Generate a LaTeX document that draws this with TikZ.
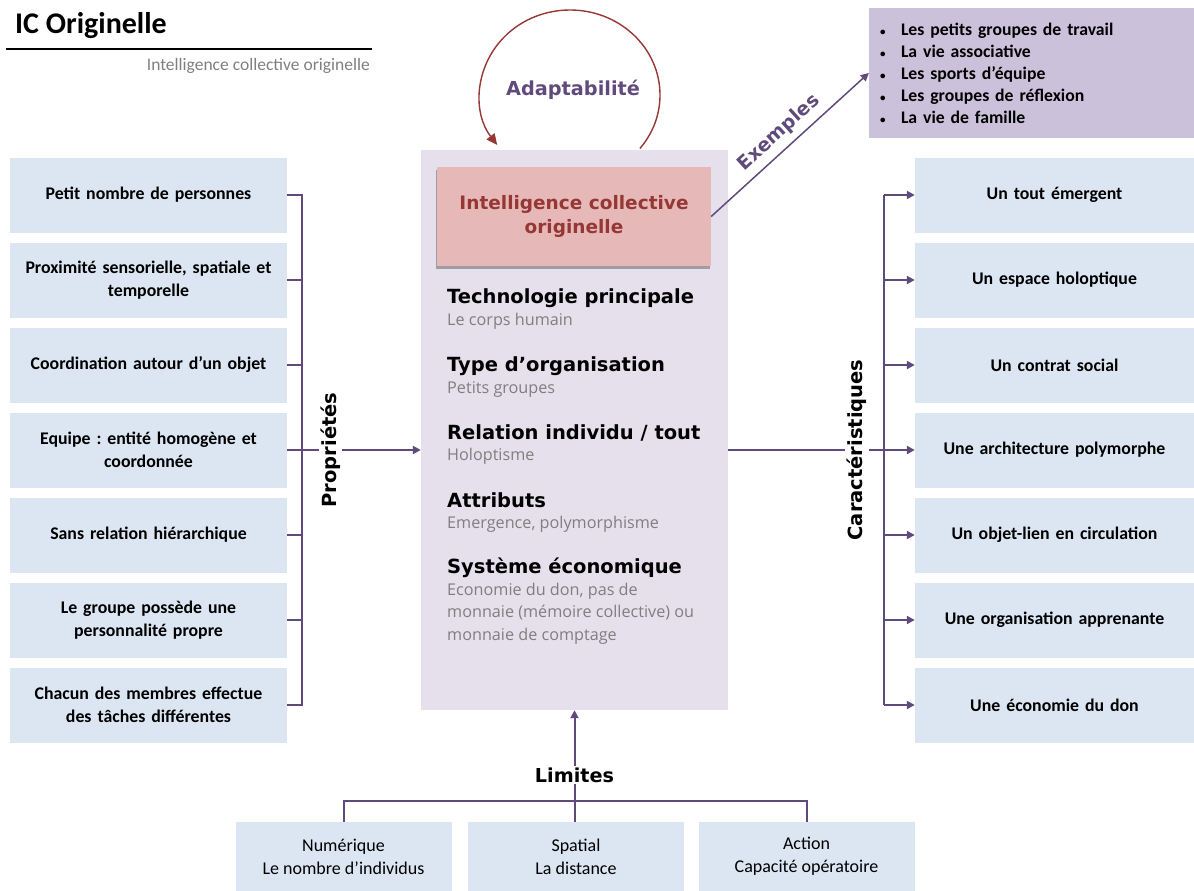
\documentclass[tikz,border=0pt]{standalone}
\usepackage{fontspec}
\setmainfont{Carlito}
\newfontfamily\heavyfont{DejaVu Sans}
\newfontfamily\greyfont{Open Sans}
\usetikzlibrary{arrows.meta,shadows}
\definecolor{boxblue}{HTML}{DCE6F2}
\definecolor{lavender}{HTML}{E6E0EC}
\definecolor{lilac}{HTML}{CCC1DA}
\definecolor{rose}{HTML}{E6B9B8}
\definecolor{darkred}{HTML}{953735}
\definecolor{plum}{HTML}{604A7B}
\definecolor{greytext}{HTML}{7F7F7F}
\newcommand{\exdot}{\makebox[21pt][l]{\fontsize{11}{11}\selectfont\textbullet}}

\begin{document}
\frenchspacing
\begin{tikzpicture}[x=1pt, y=-1pt,
    item/.style={fill=boxblue, minimum width=277pt, minimum height=75pt, text width=268pt,
        align=center, inner sep=0pt, font=\fontsize{17.8}{23}\selectfont\bfseries},
    limbox/.style={fill=boxblue, minimum width=216pt, minimum height=69pt, align=center,
        inner sep=0pt, font=\fontsize{18}{23}\selectfont},
    conn/.style={plum, line width=2pt},
    tip/.style={-{Triangle[length=8pt,width=8pt]}},
    sidelabel/.style={text=black, font=\heavyfont\bfseries\fontsize{19.5}{22}\selectfont, fill=white,
        inner sep=2pt, rotate=90},
    head/.style={anchor=west, inner sep=0pt, font=\heavyfont\bfseries\fontsize{19.5}{22}\selectfont},
    sub/.style={anchor=west, inner sep=0pt, text=greytext, align=left, font=\greyfont\fontsize{16.2}{22.5}\selectfont}]
    \useasboundingbox (0,0) rectangle (1194,891);

    % title
    \node[anchor=base west, inner sep=0pt, font=\fontsize{30}{34}\selectfont\bfseries] (ttl) at (15,34) {IC Originelle};
    \draw[line width=2pt] (6,49) -- (372,49);
    \node[anchor=east, inner sep=0pt, text=greytext, font=\fontsize{17.5}{20}\selectfont] (subttl) at (370,66)
        {Intelligence collective originelle};

    % central block
    \node[fill=lavender, minimum width=307pt, minimum height=560pt, inner sep=0pt] (core) at (574.5,430) {};
    \node[fill=rose, drop shadow={shadow xshift=-1pt, shadow yshift=-2.5pt, fill=black, opacity=0.3},
        minimum width=274pt, minimum height=99pt, align=center, text=darkred,
        font=\heavyfont\bfseries\fontsize{18.5}{24}\selectfont] (ico) at (574,216.5) {Intelligence collective\\originelle};
    \node[head] (h1) at (447,298) {Technologie principale};
    \node[sub]  (s1) at (447,321) {Le corps humain};
    \node[head] (h2) at (447,366) {Type d’organisation};
    \node[sub]  (s2) at (447,389) {Petits groupes};
    \node[head] (h3) at (447,433) {Relation individu / tout};
    \node[sub]  (s3) at (447,456) {Holoptisme};
    \node[head] (h4) at (447,500) {Attributs};
    \node[sub]  (s4) at (447,524) {Emergence, polymorphisme};
    \node[head] (h5) at (447,568) {Système économique};
    \node[sub]  (s5) at (447,613.5) {Economie du don, pas de\\monnaie (mémoire collective) ou\\monnaie de comptage};

    % adaptability loop
    \coordinate (loop) at (570,95);
    \draw[darkred, line width=1.4pt, -{Triangle[length=11pt,width=10pt]}] (loop) ++(39:90 and 85)
        arc[start angle=39, end angle=-216, x radius=90, y radius=85];
    \node[text=plum, font=\heavyfont\bfseries\fontsize{19.3}{22}\selectfont] (adapt) at (573,90) {Adaptabilité};

    % examples
    \node[fill=lilac, minimum width=327pt, minimum height=130pt, text width=305pt, inner sep=0pt,
        align=left, font=\fontsize{17.7}{22}\selectfont\bfseries] (ex) at (1032.5,73)
        {\exdot Les petits groupes de travail\\
         \exdot La vie associative\\
         \exdot Les sports d’équipe\\
         \exdot Les groupes de réflexion\\
         \exdot La vie de famille};
    \draw[plum, line width=1.5pt, tip] (ico.east) -- node[sloped, above=3pt, text=plum,
        font=\heavyfont\bfseries\fontsize{19}{22}\selectfont] (exl) {Exemples} (ex.west);

    % properties
    \foreach \t [count=\i] in {{Petit nombre de personnes}, {Proximité sensorielle, spatiale et\\temporelle},
        {Coordination autour d’un objet}, {Equipe : entité homogène et\\coordonnée}, {Sans relation hiérarchique},
        {Le groupe possède une\\personnalité propre}, {Chacun des membres effectue\\des tâches différentes}}
        \node[item] (lb\i) at (148.5,110+85*\i) {\t};
    \draw[conn] (lb1.east) -- ++(15,0) coordinate (ltop) -- (ltop |- lb7.east) -- (lb7.east);
    \foreach \i in {2,...,6}
        \draw[conn] (lb\i.east) -- (ltop |- lb\i.east);
    \draw[conn, tip] (ltop |- lb4.east) -- node[sidelabel, pos=0.24] (prop) {Propriétés} (core.west |- lb4.east);

    % characteristics
    \foreach \t [count=\i] in {{Un tout émergent}, {Un espace holoptique}, {Un contrat social},
        {Une architecture polymorphe}, {Un objet-lien en circulation}, {Une organisation apprenante},
        {Une économie du don}}
        \node[item, minimum width=279pt] (rb\i) at (1054.5,110+85*\i) {\t};
    \draw[conn] (rb1.west) ++(-31,0) coordinate (rtop) -- (rtop |- rb7.west);
    \foreach \i in {1,2,3,5,6,7}
        \draw[conn, tip] (rtop |- rb\i.west) -- (rb\i.west);
    \draw[conn, tip] (core.east |- rb4.west) -- node[sidelabel, pos=0.69] (carac) {Caractéristiques} (rb4.west);

    % limits
    \node[font=\heavyfont\bfseries\fontsize{19.2}{22}\selectfont, inner sep=1pt] (lim) at (574.5,775) {Limites};
    \draw[conn, tip] (lim.north) -- (core.south);
    \node[limbox] (bb1) at (343.5,856.5) {Numérique\\Le nombre d’individus};
    \node[limbox] (bb2) at (576,856.5) {Spatial\\La distance};
    \node[limbox] (bb3) at (806.5,856.5) {Action\\Capacité opératoire};
    \draw[conn] (bb1.north) -- ++(0,-21) -| (bb3.north);
    \draw[conn] (lim.south) -- (lim.south |- bb2.north);
\end{tikzpicture}
\end{document}
